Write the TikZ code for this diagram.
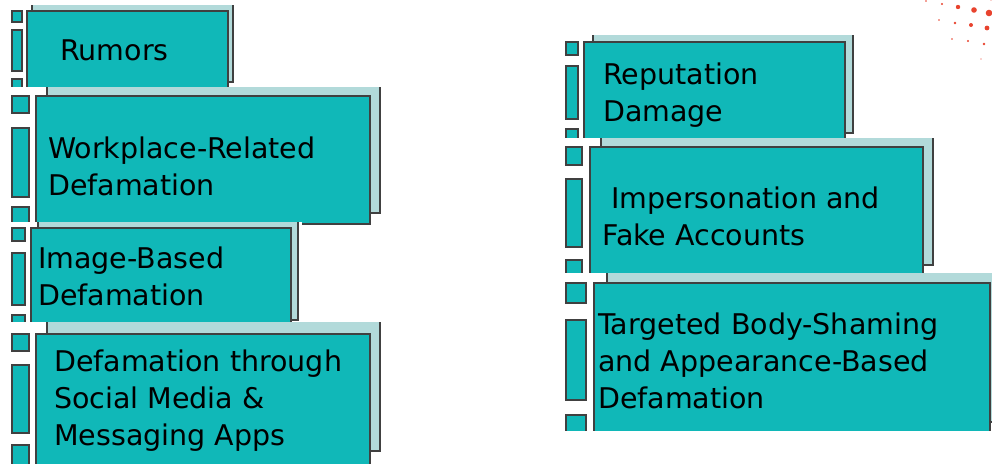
\documentclass[tikz,border=0pt]{standalone}
\usepackage{fontspec}
\setmainfont{DejaVu Sans}
\definecolor{boxfill}{RGB}{16,184,184}
\definecolor{shadowfill}{RGB}{178,218,218}
\definecolor{edge}{RGB}{64,64,64}
\definecolor{dotred}{RGB}{232,67,46}
\tikzset{
  mainbox/.style={fill=boxfill, draw=edge, line width=1.5pt},
  sqbox/.style={fill=boxfill, draw=edge, line width=1.5pt},
  shadowedge/.style={draw=edge, line width=1.5pt},
  lbl/.style={anchor=base west, inner sep=0pt, font=\fontsize{28.5}{37}\selectfont},
  dotst/.style={fill=dotred},
}
\begin{document}
\begin{tikzpicture}[x=1pt,y=-1pt]
\useasboundingbox (0,0) rectangle (992,463);
\clip (0,0) rectangle (992,463);

% ---------- Group 1: Rumors ----------
\fill[shadowfill] (32,5) rectangle (233,82);
\draw[shadowedge] (32,5) -- (32,82) -- (233,82) -- (233,5);
\draw[mainbox] (27,11) rectangle (228,88);
\draw[sqbox] (12,11) rectangle (22,22);
\draw[sqbox] (12,30) rectangle (22,71);
\draw[sqbox] (12,79) rectangle (22,90);
\node[lbl] (t1) at (60,60) {Rumors};

% ---------- Group 2: Workplace ----------
\fill[white] (0,87) rectangle (384,226);
\fill[shadowfill] (47,87) rectangle (380,213);
\draw[shadowedge] (47,87) -- (47,213) -- (380,213) -- (380,87);
\draw[mainbox] (36,96) rectangle (370,224);
\draw[sqbox] (12,96) rectangle (29,113);
\draw[sqbox] (12,128) rectangle (29,197);
\draw[sqbox] (12,207) rectangle (29,226);
\node[lbl] (t2) at (48,158) {\vtop{\hbox{Workplace-Related}\hbox{Defamation}}};

% ---------- Group 3: Image-Based ----------
\fill[white] (0,222) rectangle (302,328);
\fill[shadowfill] (38,222) rectangle (298,320);
\draw[shadowedge] (38,222) -- (38,320) -- (298,320) -- (298,222);
\draw[mainbox] (31,228) rectangle (291,326);
\draw[sqbox] (12,228) rectangle (25,241);
\draw[sqbox] (12,253) rectangle (25,305);
\draw[sqbox] (12,315) rectangle (25,328);
\node[lbl] (t3) at (38,268) {\vtop{\hbox{Image-Based}\hbox{Defamation}}};

% ---------- Group 4: Social Media ----------
\fill[white] (0,322) rectangle (384,470);
\fill[shadowfill] (47,322) rectangle (380,451);
\draw[shadowedge] (47,322) -- (47,451) -- (380,451) -- (380,322);
\draw[mainbox] (36,334) rectangle (370,470);
\draw[sqbox] (12,334) rectangle (29,351);
\draw[sqbox] (12,365) rectangle (29,433);
\draw[sqbox] (12,445) rectangle (29,470);
\node[lbl] (t4) at (54,371) {\vtop{\hbox{Defamation through}\hbox{Social Media \&}\hbox{Messaging Apps}}};

% ---------- Group 5: Reputation ----------
\fill[shadowfill] (593,35) rectangle (853,133);
\draw[shadowedge] (593,35) -- (593,133) -- (853,133) -- (853,35);
\draw[mainbox] (584,42) rectangle (845,140);
\draw[sqbox] (566,42) rectangle (578,55);
\draw[sqbox] (566,66) rectangle (578,119);
\draw[sqbox] (566,129) rectangle (578,142);
\node[lbl] (t5) at (603,84) {\vtop{\hbox{Reputation}\hbox{Damage}}};

% ---------- Group 6: Impersonation ----------
\fill[white] (555,138) rectangle (937,276);
\fill[shadowfill] (601,138) rectangle (933,265);
\draw[shadowedge] (601,138) -- (601,265) -- (933,265) -- (933,138);
\draw[mainbox] (590,147) rectangle (923,274);
\draw[sqbox] (566,147) rectangle (582,165);
\draw[sqbox] (566,179) rectangle (582,247);
\draw[sqbox] (566,260) rectangle (582,276);
\node[lbl] (t6) at (602,208) {\vtop{\hbox{\ Impersonation and}\hbox{Fake Accounts}}};

% ---------- Group 7: Body-Shaming ----------
\begin{scope}
\clip (555,0) rectangle (992,430);
\fill[white] (555,273) rectangle (992,440);
\fill[shadowfill] (607,273) rectangle (1003,422);
\draw[shadowedge] (607,273) -- (607,422) -- (1003,422) -- (1003,273);
\draw[mainbox] (594,283) rectangle (990,432);
\draw[sqbox] (566,283) rectangle (586,303);
\draw[sqbox] (566,320) rectangle (586,400);
\draw[sqbox] (566,415) rectangle (586,440);
\node[lbl] (t7) at (598,334) {\vtop{\hbox{Targeted Body-Shaming}\hbox{and Appearance-Based}\hbox{Defamation}}};
\end{scope}

% ---------- decorative dots ----------
\fill[dotst] (926,1) circle (0.8);
\fill[dotst] (942,4) circle (1.2);
\fill[dotst] (958,7) circle (2.2);
\fill[dotst] (974,10) circle (2.8);
\fill[dotst] (989,13) circle (3.3);
\fill[dotst] (991,0) circle (0.7);
\fill[dotst] (939,20) circle (0.9);
\fill[dotst] (955,23) circle (1.4);
\fill[dotst] (971,25) circle (2.0);
\fill[dotst] (987,28) circle (2.4);
\fill[dotst] (952,39) circle (0.8);
\fill[dotst] (968,41) circle (1.1);
\fill[dotst] (984,44) circle (1.4);
\fill[dotst] (981,59) circle (0.7);
\end{tikzpicture}
\end{document}
